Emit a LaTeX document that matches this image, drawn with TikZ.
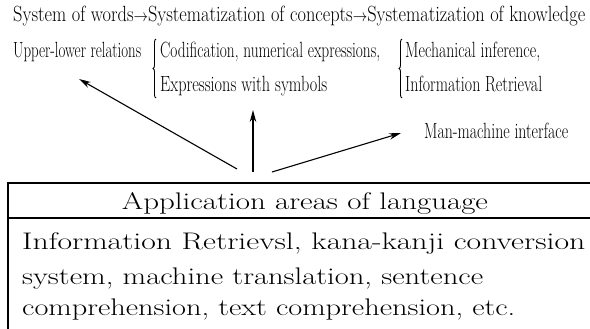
\documentclass[tikz,border=0pt]{standalone}
\usepackage{fontspec}
\usepackage{graphicx}
\usetikzlibrary{arrows.meta,decorations.pathreplacing}

\newcommand{\fitw}[2]{\resizebox{#1}{\height}{#2}}
\tikzset{
  headtext/.style={anchor=base west, inner sep=0pt, font=\fontsize{22}{26}\selectfont},
  boxtext/.style={anchor=base west, inner sep=0pt, font=\fontsize{24}{28}\selectfont},
  pointer/.style={->, line width=1.1pt},
  curly/.style={decorate, decoration={brace, amplitude=3pt}, line width=0.9pt},
  rule/.style={line width=1.2pt},
}

\begin{document}
\begin{tikzpicture}[>={Stealth[length=12pt,width=6.5pt]}, x=1pt, y=-1pt]
\useasboundingbox (0,0) rectangle (590,329);
% upper part
\node[headtext] (chain) at (13,22) {\fitw{572pt}{System of words{\fontsize{18}{20}\selectfont$\rightarrow$}Systematization of concepts{\fontsize{18}{20}\selectfont$\rightarrow$}Systematization of knowledge}};
\node[headtext] (rel) at (13,58) {\fitw{128pt}{Upper-lower relations}};
\node[headtext] (codif) at (160,58) {\fitw{220pt}{Codification, numerical expressions,}};
\node[headtext] (symb) at (160,92) {\fitw{167pt}{Expressions with symbols}};
\node[headtext] (mech) at (405,58) {\fitw{135pt}{Mechanical inference,}};
\node[headtext] (retr) at (405,92) {\fitw{137pt}{Information Retrieval}};
\node[headtext] (mmi) at (424,139) {\fitw{144pt}{Man-machine interface}};
\draw[curly] (156,98) -- (156,39);
\draw[curly] (402,98) -- (402,39);

% box
\draw[rule] (590,183) -- (8,183) -- (8,329);
\draw[rule] (8,218) -- (590,218);
\node[boxtext, anchor=base] (area) at (305,209) {\fitw{366pt}{Application areas of language}};
\node[boxtext] (ex1) at (22,250) {\fitw{563pt}{Information Retrievsl, kana-kanji conversion}};
\node[boxtext] (ex2) at (22,284) {\fitw{461pt}{system, machine translation, sentence}};
\node[boxtext] (ex3) at (22,316) {\fitw{493pt}{comprehension, text comprehension, etc.}};

% arrows
\coordinate (srcL) at (237,169);
\coordinate (srcM) at (253,172);
\coordinate (srcR) at (272,172);
\coordinate (tipL) at (79,79);
\coordinate (tipM) at (253,110);
\coordinate (tipR) at (401,133);
\draw[pointer] (srcL) -- (tipL);
\draw[pointer] (srcM) -- (tipM);
\draw[pointer] (srcR) -- (tipR);
\end{tikzpicture}
\end{document}
